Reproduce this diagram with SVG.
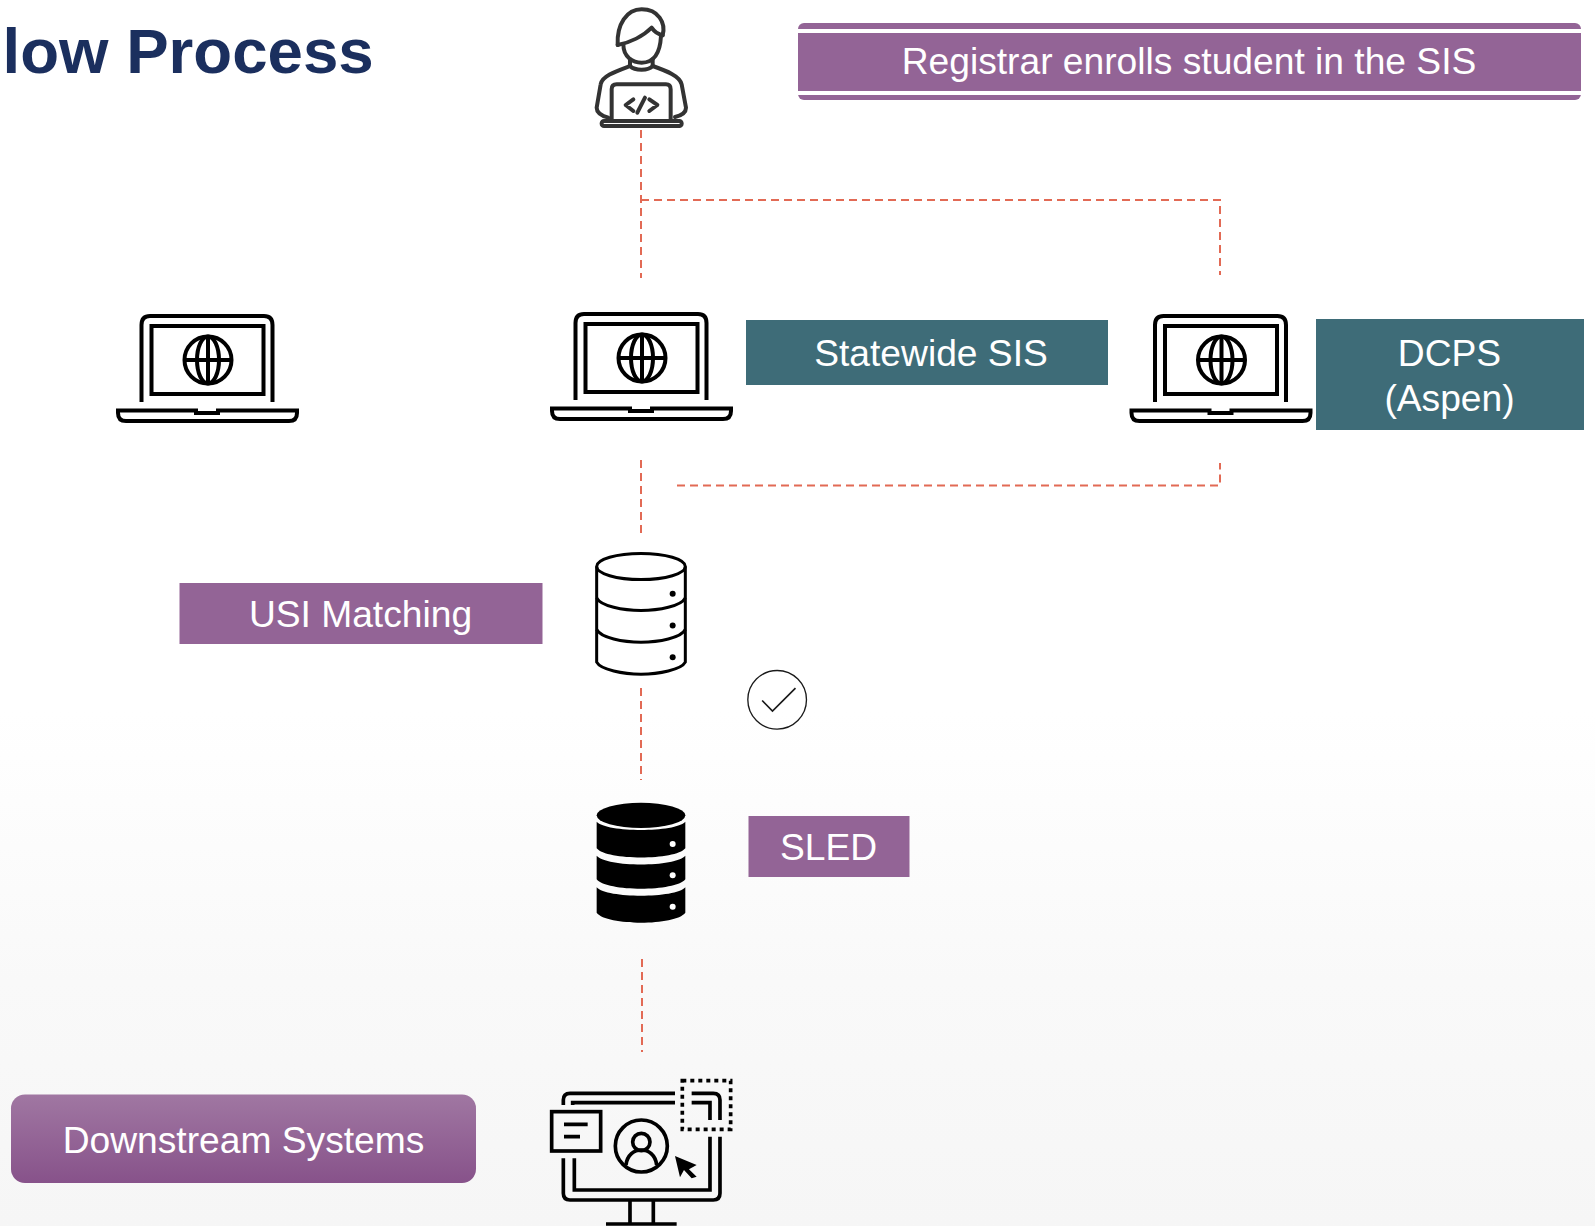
<svg xmlns="http://www.w3.org/2000/svg" width="1595" height="1226" viewBox="0 0 1595 1226">
<style>
text{font-family:"Liberation Sans",Arial,sans-serif}
.lbl{fill:#fff;font-size:37.2px;text-anchor:middle}
.title{fill:#1b2f5e;font-size:63.6px;font-weight:700}
.purple{fill:#936496}
.teal{fill:#3e6c78}
.dash{fill:none;stroke:#e26a55;stroke-width:2;stroke-dasharray:8 5}
.ln{fill:none;stroke:#000;stroke-width:4}
.ic{fill:none;stroke:#000;stroke-width:11}
</style>
<defs>
<linearGradient id="bg" x1="0" y1="0" x2="0" y2="1"><stop offset="0" stop-color="#fff"/><stop offset=".58" stop-color="#fff"/><stop offset=".8" stop-color="#f9f9f9"/><stop offset="1" stop-color="#f6f6f6"/></linearGradient>
<linearGradient id="btn" x1="0" y1="0" x2="0" y2="1"><stop offset="0" stop-color="#a077a2"/><stop offset="1" stop-color="#87528a"/></linearGradient>
<g id="laptop" class="ln">
<path d="M575.500,400V323Q575.500,314 584,314H698Q706.500,314 706.500,323V400"/>
<rect x="585.500" y="324" width="112" height="68"/>
<circle cx="642" cy="358" r="23.500"/>
<ellipse cx="642" cy="358" rx="11" ry="23.500"/>
<path d="M618,358H666M642,334V382"/>
<path d="M552,408.500H630V411H652V408.500H731V411Q731,419 723,419H560Q552,419 552,411Z"/>
</g>
</defs>
<rect width="1595" height="1226" fill="url(#bg)"/>
<text class="title" x="2.500" y="73">low Process</text>
<g id="connectors">
<path class="dash" d="M641,130V278"/>
<path class="dash" d="M641,200H1220V275"/>
<path class="dash" d="M641,460V537"/>
<path class="dash" d="M677,485.500H1220V463"/>
<path class="dash" d="M641,688V780"/>
<path class="dash" d="M642,959V1052"/>
</g>
<g id="node-registrar-icon" transform="translate(580 1) scale(.3333)" fill="none" stroke="#333" stroke-width="12" stroke-linecap="round" stroke-linejoin="round">
<path d="M113,132C110,70 140,25 185,25C235,25 258,65 248,103"/>
<path d="M113,132C150,125 190,105 215,80C225,95 235,100 248,103"/>
<path d="M130,130C130,170 160,185 185,185C215,185 240,165 243,105"/>
<path d="M150,175V195C165,210 205,210 218,195V175"/>
<path d="M150,195C110,210 65,225 62,250L50,320Q50,340 85,350"/>
<path d="M218,195C260,210 300,225 305,250L318,320Q318,340 285,348"/>
<path d="M95,360V265Q95,250 110,250H258Q272,250 272,265V360"/>
<rect x="65" y="360" width="240" height="15" rx="7"/>
<path d="M160,295L137,312L160,330M208,295L232,312L208,330M195,290L172,335"/>
</g>
<g id="node-registrar">
<rect class="purple" x="798" y="23" width="783" height="77" rx="6"/>
<path d="M798,31H1581M798,93H1581" stroke="#fff" stroke-width="4" fill="none"/>
<text class="lbl" x="1189" y="74">Registrar enrolls student in the SIS</text>
</g>
<g id="node-laptop-1"><use href="#laptop" x="-434" y="2"/></g>
<g id="node-laptop-2"><use href="#laptop"/></g>
<g id="node-laptop-3"><use href="#laptop" x="579.500" y="2"/></g>
<g id="node-statewide">
<rect class="teal" x="746" y="320" width="362" height="65"/>
<text class="lbl" x="931" y="366">Statewide SIS</text>
</g>
<g id="node-dcps">
<rect class="teal" x="1316" y="319" width="268" height="111"/>
<text class="lbl" x="1449.500" y="366">DCPS</text>
<text class="lbl" x="1449.500" y="411">(Aspen)</text>
</g>
<g id="node-usi">
<rect class="purple" x="179.500" y="583" width="363" height="61"/>
<text class="lbl" x="360.500" y="627">USI Matching</text>
</g>
<g id="node-db-outline" transform="translate(580 540.500) scale(.3333)" fill="none" stroke="#000" stroke-width="9">
<ellipse cx="183" cy="78" rx="133" ry="39"/>
<path d="M50,78V365C62,388 130,401 183,401C236,401 304,388 316,365V78"/>
<path d="M50,172C62,197 130,210 183,210C236,210 304,197 316,172M50,267C62,292 130,305 183,305C236,305 304,292 316,267"/>
<circle cx="278" cy="160" r="9" fill="#000" stroke="none"/>
<circle cx="278" cy="255" r="9" fill="#000" stroke="none"/>
<circle cx="278" cy="350" r="9" fill="#000" stroke="none"/>
</g>
<g id="node-check" transform="translate(580.500 540.500) scale(.3333)" fill="none" stroke="#1a1a1a">
<circle cx="590" cy="478" r="88" stroke-width="4"/>
<path d="M545,480L576,512L645,443" stroke-width="5"/>
</g>
<g id="node-db-solid" transform="translate(580 790) scale(.3333)">
<ellipse cx="183" cy="76" rx="133" ry="38"/>
<path d="M50,95C80,128 286,128 316,95V175C286,212 80,212 50,175Z"/>
<path d="M50,197C80,232 286,232 316,197V268C286,306 80,306 50,268Z"/>
<path d="M50,292C80,326 286,326 316,292V368C286,408 80,408 50,368Z"/>
<circle cx="278" cy="162" r="9" fill="#fff"/>
<circle cx="278" cy="256" r="9" fill="#fff"/>
<circle cx="278" cy="350" r="9" fill="#fff"/>
</g>
<g id="node-sled">
<rect class="purple" x="748.500" y="816" width="161" height="61"/>
<text class="lbl" x="828.500" y="860">SLED</text>
</g>
<g id="node-downstream">
<rect x="11" y="1094.500" width="465" height="88.500" rx="14" fill="url(#btn)"/>
<text class="lbl" x="243.500" y="1153">Downstream Systems</text>
</g>
<g id="node-monitor" transform="translate(540 1070) scale(.3333)" class="ic">
<path d="M405,70H90Q70,70 70,90V105M70,265V370Q70,390 90,390H520Q540,390 540,370V200M540,150V90Q540,70 520,70H455"/>
<path d="M405,98H98V105M103,265V360H510V200M510,150V98H455"/>
<path d="M270,390V458M340,390V458M198,462H410"/>
<rect x="427" y="32" width="145" height="146" stroke-width="11" stroke-dasharray="12 12"/>
<rect x="35" y="125" width="147" height="118"/>
<path d="M72,163H143M72,200H120"/>
<circle cx="304" cy="228" r="78"/>
<circle cx="304" cy="216" r="26"/>
<path d="M258,285C265,225 343,225 350,285"/>
<path d="M405,258L470,285L447,298L470,320L455,325L432,300L420,322Z" fill="#000" stroke="none"/>
</g>
</svg>
